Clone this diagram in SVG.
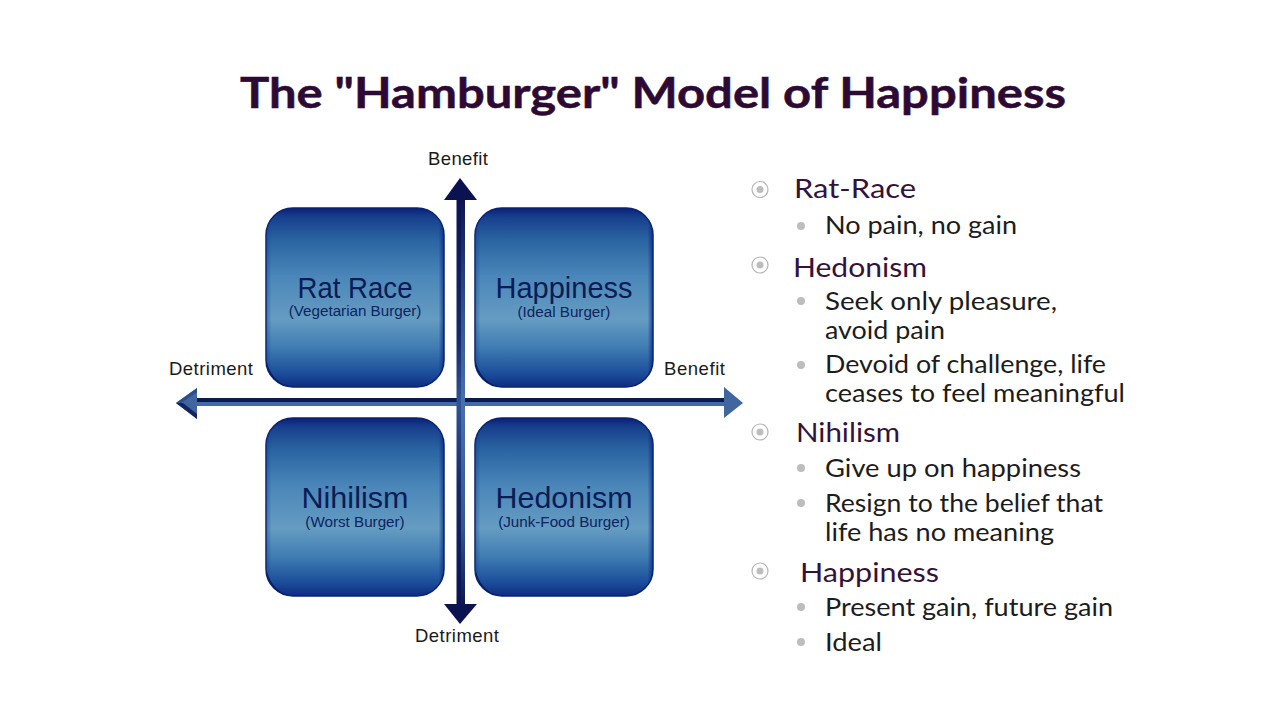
<svg xmlns="http://www.w3.org/2000/svg" width="1280" height="720" viewBox="0 0 1280 720">
<style>
.title{font:700 42px Lato,"Open Sans",sans-serif;fill:#2d0a33;stroke:#2d0a33;stroke-width:.5}
.box{fill:url(#bg);stroke:#0b2270;stroke-width:1.5}
.edge{fill:url(#side)}
.corner{fill:#0a1c66}
.name{font:29px "Liberation Sans",Arial,sans-serif;fill:#0a1c56;text-anchor:middle}
.sub{font:15.200px "Liberation Sans",Arial,sans-serif;fill:#0d2460;text-anchor:middle}
.axl{font:18.500px "Liberation Sans",Arial,sans-serif;fill:#1a1a1a}
.h{font:26.500px Lato,"Open Sans",sans-serif;fill:#33123b}
.b{font:25.500px Lato,"Open Sans",sans-serif;fill:#1c1c1c}
.ring{fill:#fff;stroke:#b5b5b5;stroke-width:1.2}
.dot{fill:#bdbdbd}
</style>
<defs>
<linearGradient id="bg" x1="0" y1="0" x2="0" y2="1">
<stop offset="0" stop-color="#0a2078"/>
<stop offset=".05" stop-color="#173f8c"/>
<stop offset=".18" stop-color="#2a64a2"/>
<stop offset=".38" stop-color="#4a86b8"/>
<stop offset=".62" stop-color="#659cc2"/>
<stop offset=".78" stop-color="#3f7cb2"/>
<stop offset=".92" stop-color="#1c4f9b"/>
<stop offset="1" stop-color="#0e2c82"/>
</linearGradient>
<linearGradient id="side" x1="0" y1="0" x2="1" y2="0">
<stop offset="0" stop-color="#0e3a8a" stop-opacity=".45"/>
<stop offset=".03" stop-color="#0e3a8a" stop-opacity="0"/>
<stop offset=".97" stop-color="#0a2478" stop-opacity="0"/>
<stop offset="1" stop-color="#0a2478" stop-opacity=".75"/>
</linearGradient>
<linearGradient id="vax" x1="0" y1="0" x2="0" y2="1">
<stop offset="0" stop-color="#0a1350"/>
<stop offset=".35" stop-color="#142a6c"/>
<stop offset=".5" stop-color="#2f5494"/>
<stop offset=".7" stop-color="#142a6c"/>
<stop offset="1" stop-color="#0a1350"/>
</linearGradient>
<linearGradient id="vax2" x1="0" y1="0" x2="0" y2="1">
<stop offset="0" stop-color="#0a1350"/>
<stop offset=".3" stop-color="#33588f"/>
<stop offset=".5" stop-color="#4a70aa"/>
<stop offset=".8" stop-color="#33588f"/>
<stop offset="1" stop-color="#0a1350"/>
</linearGradient>
<path id="nick" d="M0.500 -26A27 27 0 0 0 22 -0.500C12 -4 4 -12 0.500 -26Z"/>
</defs>
<rect width="1280" height="720" fill="#fff"/>
<text class="title" x="240" y="108" textLength="826" lengthAdjust="spacingAndGlyphs">The "Hamburger" Model of Happiness</text>

<g id="connectors">
<g id="axis-horizontal">
<rect x="192" y="398" width="536" height="4" fill="#0c1a52"/>
<rect x="192" y="402" width="536" height="4" fill="#456ba6"/>
<path d="M197 388V419L176 403Z" fill="#41659f"/>
<path d="M176 403L197 419V414L183 403Z" fill="#12255f"/>
<path d="M197 388L176 403H181L197 392Z" fill="#2c4c8c"/>
<path d="M724 387V418L743 403Z" fill="#41659f"/>
</g>
<g id="axis-vertical">
<rect x="456.500" y="196" width="4.500" height="412" fill="url(#vax)"/>
<rect x="461" y="196" width="4" height="412" fill="url(#vax2)"/>
<path d="M460 178L477 200H444Z" fill="#0a1350"/>
<path d="M460 624L477 604H444Z" fill="#0a1350"/>
</g>
</g>

<g id="node-rat-race">
<rect class="box" x="266" y="208" width="178" height="179" rx="27"/>
<rect class="edge" x="266" y="208" width="178" height="179" rx="27"/>
<use href="#nick" x="266" y="387" class="corner"/>
<text class="name" x="355" y="298" textLength="115" lengthAdjust="spacingAndGlyphs">Rat Race</text>
<text class="sub" x="355" y="316">(Vegetarian Burger)</text>
</g>
<g id="node-happiness">
<rect class="box" x="475" y="208" width="178" height="179" rx="27"/>
<rect class="edge" x="475" y="208" width="178" height="179" rx="27"/>
<use href="#nick" x="475" y="387" class="corner"/>
<text class="name" x="564" y="298" textLength="137" lengthAdjust="spacingAndGlyphs">Happiness</text>
<text class="sub" x="564" y="317">(Ideal Burger)</text>
</g>
<g id="node-nihilism">
<rect class="box" x="266" y="418" width="178" height="178" rx="27"/>
<rect class="edge" x="266" y="418" width="178" height="178" rx="27"/>
<use href="#nick" x="266" y="596" class="corner"/>
<text class="name" x="355" y="508" textLength="107" lengthAdjust="spacingAndGlyphs">Nihilism</text>
<text class="sub" x="355" y="527">(Worst Burger)</text>
</g>
<g id="node-hedonism">
<rect class="box" x="475" y="418" width="178" height="178" rx="27"/>
<rect class="edge" x="475" y="418" width="178" height="178" rx="27"/>
<use href="#nick" x="475" y="596" class="corner"/>
<text class="name" x="564" y="508" textLength="137" lengthAdjust="spacingAndGlyphs">Hedonism</text>
<text class="sub" x="564" y="527">(Junk-Food Burger)</text>
</g>

<g id="axis-labels">
<text class="axl" x="428" y="165" textLength="60">Benefit</text>
<text class="axl" x="169" y="375" textLength="84">Detriment</text>
<text class="axl" x="664" y="375" textLength="61">Benefit</text>
<text class="axl" x="415" y="642" textLength="84">Detriment</text>
</g>

<g id="bullets">
<circle class="ring" cx="760" cy="189.500" r="8"/><circle class="dot" cx="760" cy="189.500" r="3.500"/>
<circle class="ring" cx="760" cy="265" r="8"/><circle class="dot" cx="760" cy="265" r="3.500"/>
<circle class="ring" cx="760" cy="432" r="8"/><circle class="dot" cx="760" cy="432" r="3.500"/>
<circle class="ring" cx="760" cy="571" r="8"/><circle class="dot" cx="760" cy="571" r="3.500"/>
<circle class="dot" cx="801" cy="226" r="4"/>
<circle class="dot" cx="801" cy="301" r="4"/>
<circle class="dot" cx="801" cy="365" r="4"/>
<circle class="dot" cx="801" cy="468" r="4"/>
<circle class="dot" cx="801" cy="503" r="4"/>
<circle class="dot" cx="801" cy="607" r="4"/>
<circle class="dot" cx="801" cy="642" r="4"/>
</g>
<g id="list">
<text class="h" x="794" y="198" textLength="122" lengthAdjust="spacingAndGlyphs">Rat-Race</text>
<text class="b" x="825" y="234" textLength="192" lengthAdjust="spacingAndGlyphs">No pain, no gain</text>
<text class="h" x="793" y="277" textLength="134" lengthAdjust="spacingAndGlyphs">Hedonism</text>
<text class="b" x="825" y="310" textLength="232" lengthAdjust="spacingAndGlyphs">Seek only pleasure,</text>
<text class="b" x="825" y="339" textLength="120" lengthAdjust="spacingAndGlyphs">avoid pain</text>
<text class="b" x="825" y="373" textLength="281" lengthAdjust="spacingAndGlyphs">Devoid of challenge, life</text>
<text class="b" x="825" y="402" textLength="300" lengthAdjust="spacingAndGlyphs">ceases to feel meaningful</text>
<text class="h" x="796" y="442" textLength="104" lengthAdjust="spacingAndGlyphs">Nihilism</text>
<text class="b" x="825" y="477" textLength="256" lengthAdjust="spacingAndGlyphs">Give up on happiness</text>
<text class="b" x="825" y="512" textLength="278" lengthAdjust="spacingAndGlyphs">Resign to the belief that</text>
<text class="b" x="825" y="541" textLength="229" lengthAdjust="spacingAndGlyphs">life has no meaning</text>
<text class="h" x="800" y="582" textLength="139" lengthAdjust="spacingAndGlyphs">Happiness</text>
<text class="b" x="825" y="616" textLength="288" lengthAdjust="spacingAndGlyphs">Present gain, future gain</text>
<text class="b" x="825" y="651" textLength="57" lengthAdjust="spacingAndGlyphs">Ideal</text>
</g>
</svg>
